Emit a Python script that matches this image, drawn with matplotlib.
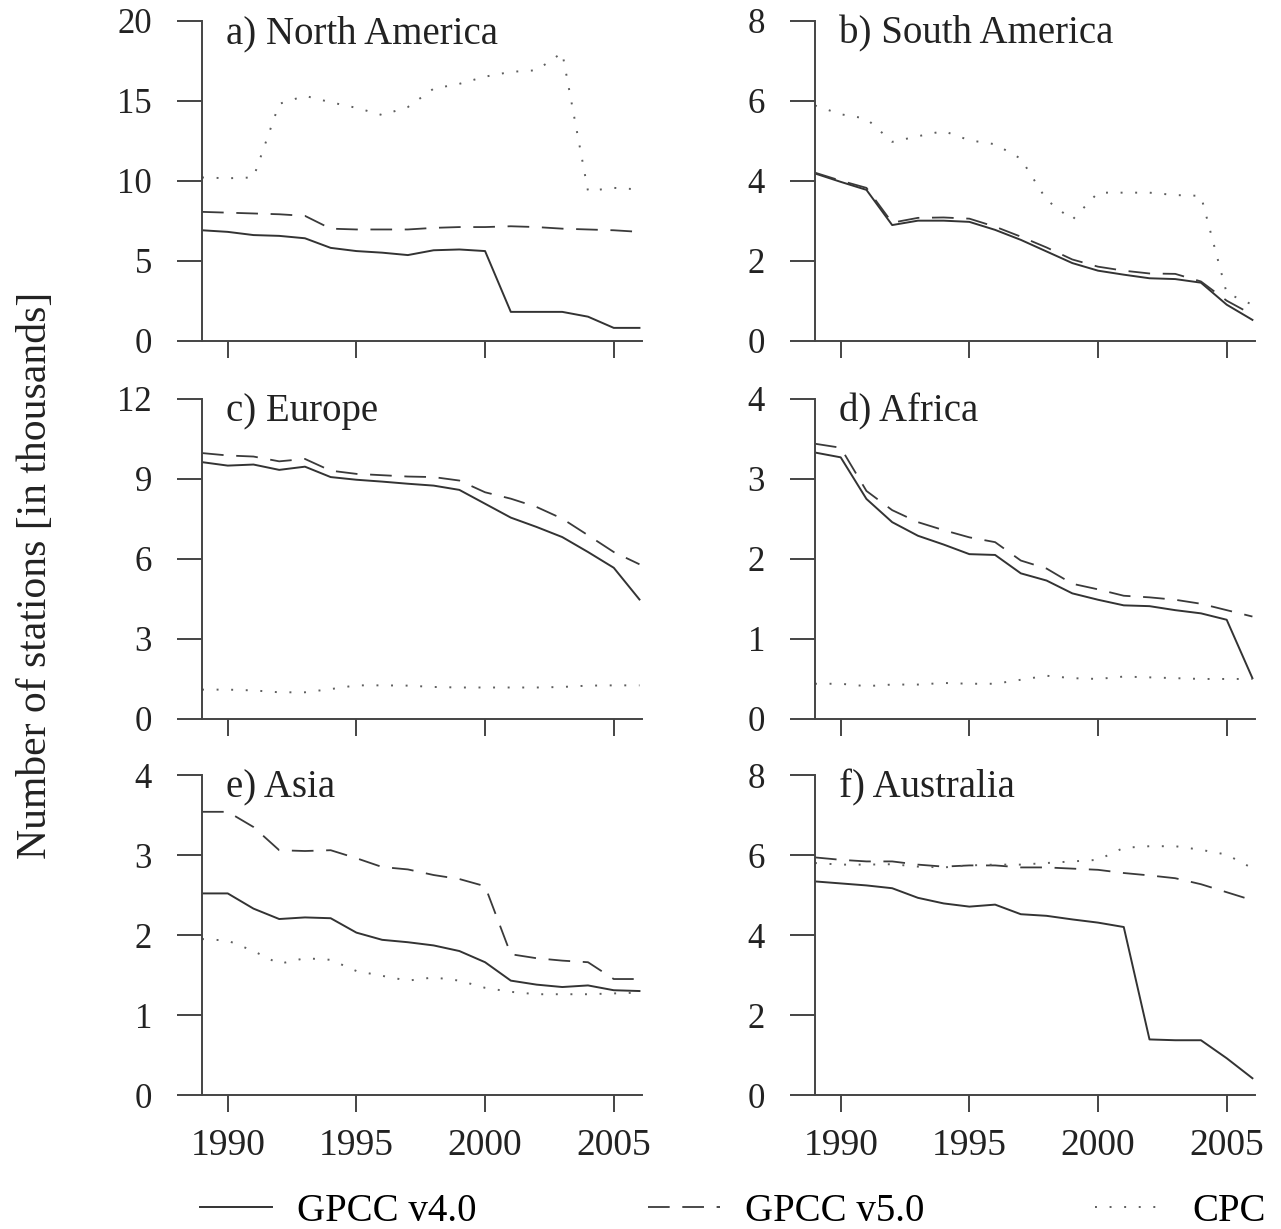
import numpy as np
import matplotlib
matplotlib.use('Agg')
import matplotlib.pyplot as plt

plt.rcParams['font.family'] = ['Liberation Serif', 'DejaVu Serif']

years = np.arange(1989, 2007)

# number of stations in thousands (1989..2006)
na_v4  = [6.9, 6.8, 6.6, 6.55, 6.4, 5.8, 5.6, 5.5, 5.35, 5.65, 5.7, 5.6, 1.8, 1.8, 1.8, 1.5, 0.8, 0.8]
na_v5  = [8.05, 8.0, 7.95, 7.9, 7.8, 7.0, 6.95, 6.95, 6.95, 7.05, 7.1, 7.1, 7.15, 7.1, 7.0, 6.95, 6.9, 6.8]
na_cpc = [10.2, 10.15, 10.2, 14.8, 15.3, 14.9, 14.55, 14.1, 14.6, 15.75, 16.05, 16.5, 16.8, 16.9, 18.0, 9.35, 9.55, 9.45]

sa_v4  = [4.18, 3.97, 3.77, 2.89, 3.0, 3.0, 2.97, 2.77, 2.52, 2.23, 1.94, 1.75, 1.65, 1.56, 1.54, 1.45, 0.9, 0.52]
sa_v5  = [4.2, 4.0, 3.82, 2.95, 3.07, 3.08, 3.05, 2.85, 2.6, 2.33, 2.03, 1.85, 1.75, 1.68, 1.67, 1.48, 1.0, 0.65]
sa_cpc = [5.88, 5.66, 5.55, 4.97, 5.11, 5.24, 5.01, 4.91, 4.55, 3.52, 3.02, 3.7, 3.7, 3.7, 3.64, 3.62, 1.19, 0.9]

eu_v4  = [9.63, 9.5, 9.54, 9.34, 9.46, 9.07, 8.97, 8.9, 8.82, 8.75, 8.59, 8.07, 7.55, 7.2, 6.82, 6.26, 5.67, 4.48]
eu_v5  = [9.97, 9.88, 9.84, 9.66, 9.75, 9.31, 9.19, 9.14, 9.09, 9.07, 8.94, 8.5, 8.26, 7.95, 7.51, 6.89, 6.26, 5.8]
eu_cpc = [1.1, 1.1, 1.07, 1.0, 1.0, 1.12, 1.26, 1.26, 1.25, 1.2, 1.18, 1.18, 1.18, 1.18, 1.2, 1.25, 1.26, 1.26]

af_v4  = [3.33, 3.27, 2.75, 2.46, 2.29, 2.18, 2.06, 2.05, 1.82, 1.73, 1.57, 1.49, 1.42, 1.41, 1.36, 1.32, 1.24, 0.51]
af_v5  = [3.44, 3.39, 2.85, 2.61, 2.46, 2.36, 2.27, 2.21, 1.98, 1.88, 1.69, 1.62, 1.54, 1.52, 1.49, 1.44, 1.36, 1.28]
af_cpc = [0.44, 0.44, 0.41, 0.43, 0.43, 0.45, 0.44, 0.44, 0.49, 0.54, 0.51, 0.5, 0.53, 0.52, 0.51, 0.5, 0.5, 0.5]

as_v4  = [2.52, 2.52, 2.33, 2.2, 2.22, 2.21, 2.03, 1.94, 1.91, 1.87, 1.8, 1.66, 1.43, 1.38, 1.35, 1.37, 1.31, 1.3]
as_v5  = [3.54, 3.54, 3.35, 3.06, 3.05, 3.06, 2.96, 2.85, 2.82, 2.75, 2.7, 2.61, 1.76, 1.71, 1.68, 1.66, 1.45, 1.45]
as_cpc = [1.95, 1.93, 1.8, 1.64, 1.71, 1.69, 1.55, 1.49, 1.43, 1.47, 1.43, 1.34, 1.29, 1.26, 1.26, 1.26, 1.27, 1.28]

au_v4  = [5.34, 5.29, 5.24, 5.17, 4.93, 4.79, 4.71, 4.76, 4.52, 4.48, 4.39, 4.31, 4.2, 1.39, 1.37, 1.37, 0.92, 0.42]
au_v5  = [5.94, 5.88, 5.84, 5.84, 5.76, 5.71, 5.74, 5.74, 5.69, 5.69, 5.66, 5.63, 5.55, 5.49, 5.42, 5.27, 5.07, 4.87]
au_cpc = [5.8, 5.76, 5.76, 5.77, 5.71, 5.69, 5.74, 5.76, 5.76, 5.8, 5.84, 5.88, 6.18, 6.22, 6.22, 6.13, 6.01, 5.67]

titles = ['a) North America', 'b) South America', 'c) Europe',
          'd) Africa', 'e) Asia', 'f) Australia']
series = [(na_v4, na_v5, na_cpc), (sa_v4, sa_v5, sa_cpc), (eu_v4, eu_v5, eu_cpc),
          (af_v4, af_v5, af_cpc), (as_v4, as_v5, as_cpc), (au_v4, au_v5, au_cpc)]
yticks = [[0, 5, 10, 15, 20], [0, 2, 4, 6, 8], [0, 3, 6, 9, 12],
          [0, 1, 2, 3, 4], [0, 1, 2, 3, 4], [0, 2, 4, 6, 8]]
xticks = [1990, 1995, 2000, 2005]
labels = ['GPCC v4.0', 'GPCC v5.0', 'CPC']

fig = plt.figure(figsize=(12.81, 12.29), dpi=100)

# axes boxes in figure fractions: [left, bottom, width, height]
lefts = [0.1577, 0.6362]
bottoms = [0.7228, 0.415, 0.109]
w, h = 0.3435, 0.2604

for k in range(6):
    row, col = k // 2, k % 2
    ax = fig.add_axes([lefts[col], bottoms[row], w, h])
    v4, v5, cpc = series[k]
    l1, = ax.plot(years, v4, color='#333333', lw=1.4, label=labels[0])
    l2, = ax.plot(years, v5, color='#3a3a3a', lw=1.3, dashes=(12, 7), label=labels[1])
    l3, = ax.plot(years, cpc, color='#5e5e5e', lw=1.4, dashes=(1, 6.5), label=labels[2])

    ax.set_xlim(1989, 2006.1)
    ax.set_ylim(yticks[k][0], yticks[k][-1])
    ax.set_yticks(yticks[k])
    ax.set_xticks(xticks)
    for s in ['top', 'right']:
        ax.spines[s].set_visible(False)
    for s in ['left', 'bottom']:
        ax.spines[s].set_linewidth(1.4)
        ax.spines[s].set_color('#444444')
    ax.tick_params(axis='y', length=18, width=1.4, pad=18, labelsize=25,
                   colors='#444444', labelcolor='#222222')
    ax.tick_params(axis='x', length=12, width=1.4, pad=12, labelsize=27,
                   colors='#444444', labelcolor='#222222')
    if row < 2:
        ax.set_xticklabels([])

    ax.text(0.055, 0.96, titles[k], transform=ax.transAxes, fontsize=28,
            va='center', ha='left', color='#222222')

fig.text(0.028, 0.532, 'Number of stations [in thousands]', rotation=90,
         fontsize=30, va='center', ha='center', color='#222222')

fig.legend([l1, l2, l3], labels, loc='center left', bbox_to_anchor=(0.156, 0.0145),
           ncol=3, frameon=False, fontsize=28, handlelength=1.85, handletextpad=0.65,
           columnspacing=4.4, borderpad=0, borderaxespad=0)

fig.savefig('out.png', dpi=100)
